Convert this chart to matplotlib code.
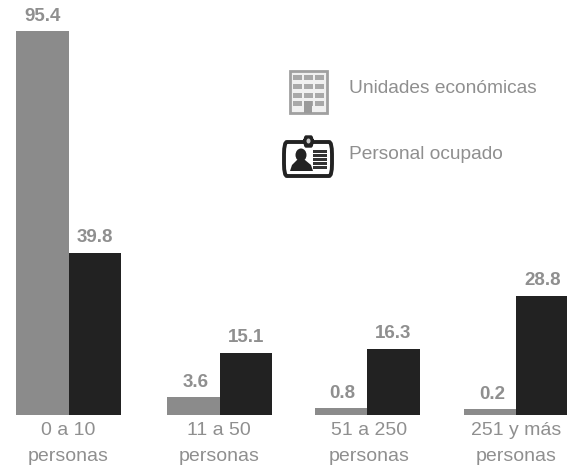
import matplotlib
matplotlib.use('Agg')
import matplotlib.pyplot as plt
from matplotlib.patches import Rectangle, FancyBboxPatch, Ellipse, Polygon

plt.rcParams['font.family'] = ['Liberation Sans', 'DejaVu Sans']

categories = ['0 a 10\npersonas', '11 a 50\npersonas', '51 a 250\npersonas', '251 y más\npersonas']
unidades = [95.4, 3.6, 0.8, 0.2]
personal = [39.8, 15.1, 16.3, 28.8]
# the small bars are drawn taller than their labels in the original
unidades_alto = [95.4, 4.4, 1.8, 1.5]
personal_alto = [40.2, 15.4, 16.4, 29.6]

GRAY = '#8b8b8b'
DARK = '#222222'
TEXT = '#8f8f8f'

group_x = [68.5, 219.5, 367, 516]
label_x = [68.5, 219, 369, 516]
bar_w = 52.5
scale = 4.025   # pixels per unit
base = 415


def py(p):
    # image row to data y
    return (base - p) / scale


fig = plt.figure(figsize=(5.67, 4.68), dpi=100)
ax = fig.add_axes([0, 0, 1, 1])
ax.set_xlim(0, 567)
ax.set_ylim(py(468), py(0))
ax.axis('off')

ax.bar([x - bar_w / 2 for x in group_x], unidades_alto, bar_w, color=GRAY)
ax.bar([x + bar_w / 2 for x in group_x], personal_alto, bar_w, color=DARK)

for x, v, h in zip(group_x, unidades, unidades_alto):
    ax.annotate(f'{v}', (x - bar_w / 2 + (2 if v < 90 else 0), h), xytext=(0, 6), textcoords='offset pixels',
                ha='center', va='bottom', fontsize=13.5, fontweight='bold', color=TEXT)
for x, v, h in zip(group_x, personal, personal_alto):
    ax.annotate(f'{v}', (x + bar_w / 2, h), xytext=(0, 7), textcoords='offset pixels',
                ha='center', va='bottom', fontsize=13.5, fontweight='bold', color=TEXT)

for x, c in zip(label_x, categories):
    ax.text(x, py(422), c, ha='center', va='top', fontsize=14, color=TEXT, linespacing=1.72)

ax.text(349, py(88.5), 'Unidades económicas', va='center', fontsize=13.8, color=TEXT)
ax.text(349, py(154.5), 'Personal ocupado', va='center', fontsize=13.8, color=TEXT)

# building icon
ax.add_patch(Rectangle((289.5, py(113)), 37, py(71) - py(113), fc='#f0f0f0', ec='#a0a0a0', lw=2))
for row in [75, 84, 93, 101]:
    for col in [293, 304, 315]:
        ax.add_patch(Rectangle((col, py(row + 5)), 8.5, 5 / scale, fc='#a8a8a8', ec='none'))
ax.add_patch(Rectangle((304, py(113)), 8, py(101) - py(113), fc='#9a9a9a', ec='none'))

# badge icon
ax.add_patch(FancyBboxPatch((284, py(176)), 48, py(142) - py(176), boxstyle='round,pad=0,rounding_size=3',
                            fc='white', ec=DARK, lw=2.8))
ax.add_patch(FancyBboxPatch((304, py(147)), 9, py(136) - py(147), boxstyle='round,pad=0,rounding_size=2',
                            fc=DARK, ec=DARK, lw=1))
ax.add_patch(Ellipse((308.5, py(141)), 4, 5 / scale, fc='#c8c8c8', ec='none'))
ax.add_patch(Ellipse((301, py(155)), 11, 13 / scale, fc=DARK, ec='none'))
ax.add_patch(Polygon([(290, py(171)), (313, py(171)), (311, py(165)), (305, py(160)),
                      (297, py(160)), (292, py(165))], fc=DARK, ec='none'))
for row in [150, 154, 158, 162, 166]:
    ax.add_patch(Rectangle((313, py(row + 2.6)), 14, 2.6 / scale, fc='#333333', ec='none'))

fig.savefig('out.png', dpi=100)
